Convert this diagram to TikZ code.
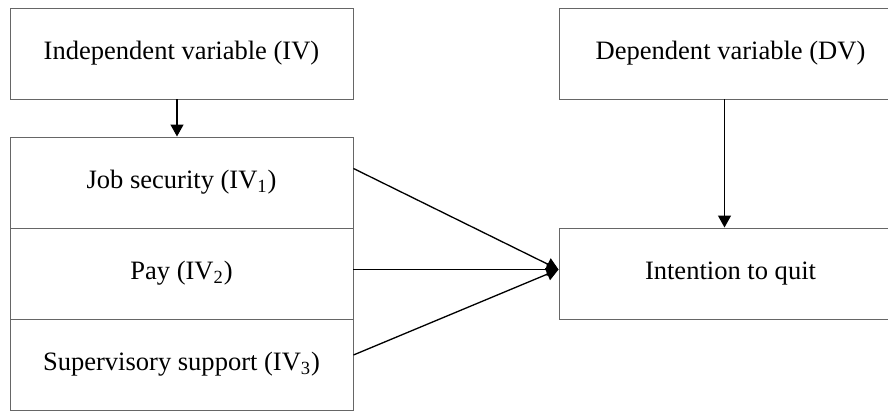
\documentclass[tikz,border=0pt]{standalone}
\usepackage{fontspec}
\setmainfont{Liberation Serif}
\usetikzlibrary{arrows.meta}

\begin{document}
\begin{tikzpicture}[
	varbox/.style={draw=black!60, line width=0.55pt, minimum width=6.86cm, minimum height=1.82cm, inner sep=0pt, font=\fontsize{15.1}{18}\selectfont},
	link/.style={line width=0.75pt, -{Triangle[width=0.26cm, length=0.24cm]}}
	]
			%%%%% START %%%%%
			
			\useasboundingbox (0, 0) rectangle (17.76, 8.24);
			
			\node[varbox] (iv) at (3.63, 7.17) {Independent variable (IV)};
			\node[varbox] (dv) at (14.61, 7.17) {Dependent variable (DV)};
			
			\node[varbox] (jobsec) at (3.63, 4.59) {Job security (IV\textsubscript{1})};
			\node[varbox] (pay) at (3.63, 2.77) {Pay (IV\textsubscript{2})};
			\node[varbox] (supsup) at (3.63, 0.95) {Supervisory support (IV\textsubscript{3})};
			
			\node[varbox] (quit) at (14.61, 2.77) {Intention to quit};
			
			\draw[link] ([xshift=-0.09cm]iv.south) -- ([xshift=-0.09cm]jobsec.north);
			\draw[link] ([xshift=-0.12cm]dv.south) -- ([xshift=-0.12cm]quit.north);
			
			\draw[link] ([yshift=0.28cm]jobsec.east) -- ([yshift=0.08cm]quit.west);
			\draw[link] ([yshift=0.08cm]pay.east) -- ([yshift=0.08cm]quit.west);
			\draw[link] ([yshift=0.19cm]supsup.east) -- ([yshift=0.08cm]quit.west);
			
			%%%%% END %%%%%
		\end{tikzpicture}
\end{document}
